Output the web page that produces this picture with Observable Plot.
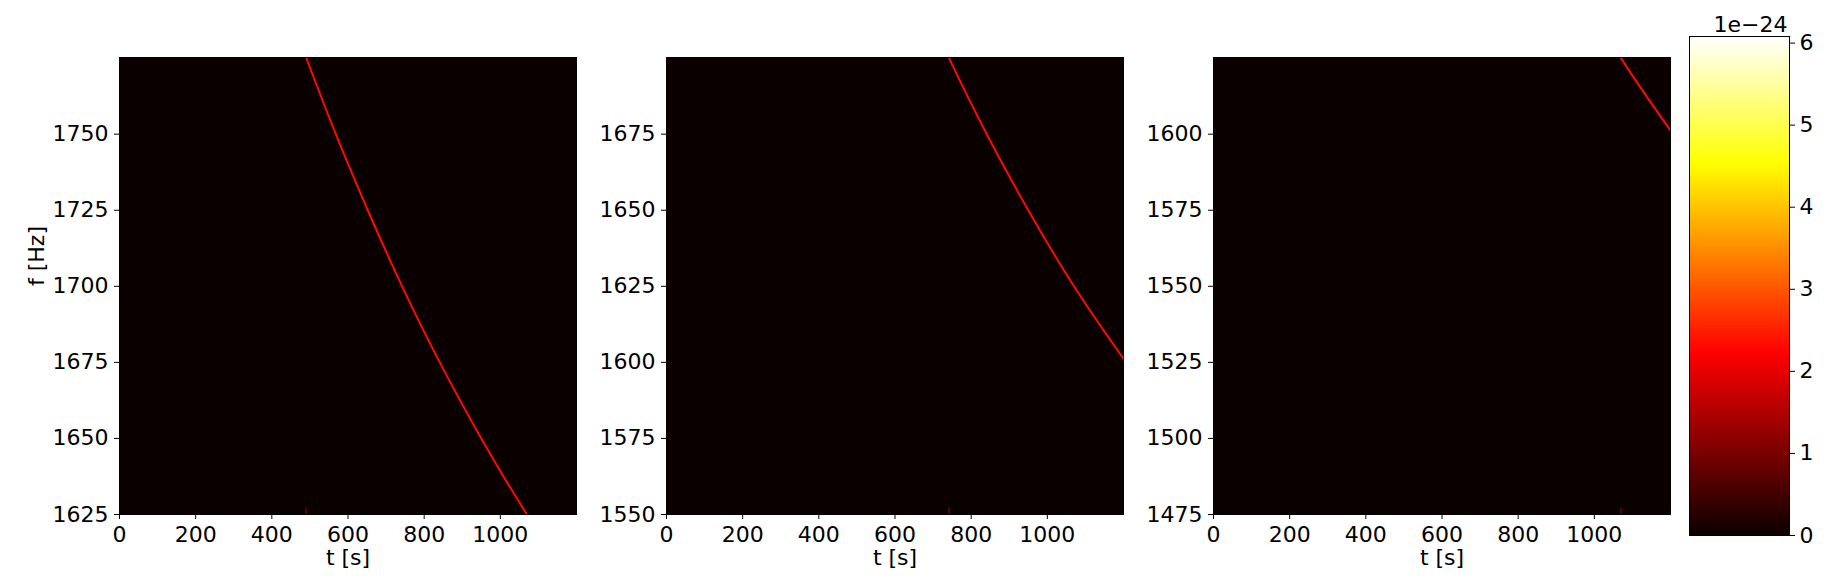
<!DOCTYPE html>
<html>
<head>
<meta charset="utf-8">
<script src="https://cdn.jsdelivr.net/npm/d3@7"></script>
<script src="https://cdn.jsdelivr.net/npm/@observablehq/plot@0.6"></script>
<style>
html, body { margin: 0; padding: 0; background: #ffffff; }
#root { position: relative; width: 1841px; height: 586px; overflow: hidden; font-family: "DejaVu Sans"; }
#root svg { position: absolute; top: 0; }
</style>
</head>
<body>
<div id="root"></div>
<script>
// ---- data ----
const timeDomain = [0, 1200];
const timeTicks = [0, 200, 400, 600, 800, 1000];
const freqLows = [1625, 1550, 1475];
const freqSpan = 150.2;
const freqTicks = [
  [1625, 1650, 1675, 1700, 1725, 1750],
  [1550, 1575, 1600, 1625, 1650, 1675],
  [1475, 1500, 1525, 1550, 1575, 1600]
];
// chirp track (time s, frequency Hz)
const chirpT = [490, 568, 652, 742, 841, 950, 1070, 1200];
const chirpF = [1775.2, 1750, 1725, 1700, 1675, 1650, 1625, 1601.2];
const chirpPower = 2.3;        // x 1e-24
const wrapT = [490, 742, 1070]; // faint wrap-around pixels at bottom of each panel
const wrapPower = 1.2;
const backgroundPower = 0;
const powerMax = 6.08;          // x 1e-24
const cbarTicks = [0, 1, 2, 3, 4, 5, 6];
const offsetLabel = "1e\u221224";
const xLabel = "t [s]";
const yLabel = "f [Hz]";
// matplotlib "hot" colormap anchors
const hotStops = [0, 0.365079, 0.746032, 1];
const hotColors = ["#0b0000", "#ff0000", "#ffff00", "#ffffff"];

// ---- layout ----
const frameLefts = [119, 666, 1213];
const frameTop = 57;
const frameSize = 457;
const H = 586;

const colorScale = {
  type: "linear",
  domain: hotStops.map(s => s * powerMax),
  range: hotColors,
  interpolate: "rgb"
};
const baseStyle = {
  fontFamily: "DejaVu Sans",
  fontSize: "22px",
  color: "black",
  background: "transparent",
  overflow: "visible"
};

const root = document.getElementById("root");
const chirp = chirpT.map((t, k) => ({t, f: chirpF[k]}));

freqLows.forEach((lo, i) => {
  const ml = i === 0 ? 119 : 80;
  const mr = 10;
  const hi = lo + freqSpan;
  const marks = [
    Plot.raster({
      x1: timeDomain[0], x2: timeDomain[1], y1: lo, y2: hi,
      width: 2, height: 2, fill: () => backgroundPower, imageRendering: "pixelated"
    }),
    Plot.ruleX([wrapT[i]], {
      x: d => d, y1: lo, y2: lo + 2, stroke: () => wrapPower, strokeWidth: 1.2
    }),
    Plot.line(chirp, {
      x: "t", y: "f", z: null, stroke: () => chirpPower,
      strokeWidth: 2, curve: "monotone-x", clip: true
    }),
    Plot.frame({stroke: "black", strokeWidth: 1}),
    Plot.text([xLabel], {
      text: d => d, frameAnchor: "bottom", dy: 43, lineAnchor: "middle", fontSize: 22
    })
  ];
  if (i === 0) {
    marks.push(Plot.text([yLabel], {
      text: d => d, frameAnchor: "left", dx: -83, rotate: -90, lineAnchor: "middle", fontSize: 22
    }));
  }
  const svg = Plot.plot({
    width: ml + frameSize + mr,
    height: H,
    marginLeft: ml,
    marginRight: mr,
    marginTop: frameTop,
    marginBottom: H - frameTop - frameSize,
    style: baseStyle,
    x: {domain: timeDomain, ticks: timeTicks, tickSize: 5, tickPadding: 7, label: null, tickFormat: d => `${d}`},
    y: {domain: [lo, hi], ticks: freqTicks[i], tickSize: 5, tickPadding: 6, label: null, tickFormat: d => `${d}`},
    color: colorScale,
    marks
  });
  svg.style.left = (frameLefts[i] - ml) + "px";
  root.appendChild(svg);
});

// ---- colorbar ----
const cbLeft = 1689, cbTop = 36, cbBottom = 535, cbWidth = 100;
const cbMl = 9, cbMr = 1841 - (cbLeft + cbWidth);
const cbar = Plot.plot({
  width: cbMl + cbWidth + cbMr,
  height: H,
  marginLeft: cbMl,
  marginRight: cbMr,
  marginTop: cbTop,
  marginBottom: H - cbBottom,
  style: baseStyle,
  x: {domain: [0, 1], axis: null},
  y: {domain: [0, powerMax], ticks: cbarTicks, tickSize: 5, tickPadding: 5, label: null, axis: "right", tickFormat: d => `${d}`},
  color: colorScale,
  marks: [
    Plot.raster({x1: 0, x2: 1, y1: 0, y2: powerMax, width: 1, height: 500, fill: (x, y) => y}),
    Plot.frame({stroke: "black", strokeWidth: 1}),
    Plot.text([offsetLabel], {
      text: d => d, frameAnchor: "top-right", textAnchor: "end", lineAnchor: "middle", dy: -12, dx: -2, fontSize: 22
    })
  ]
});
cbar.style.left = (cbLeft - cbMl) + "px";
root.appendChild(cbar);
</script>
</body>
</html>
